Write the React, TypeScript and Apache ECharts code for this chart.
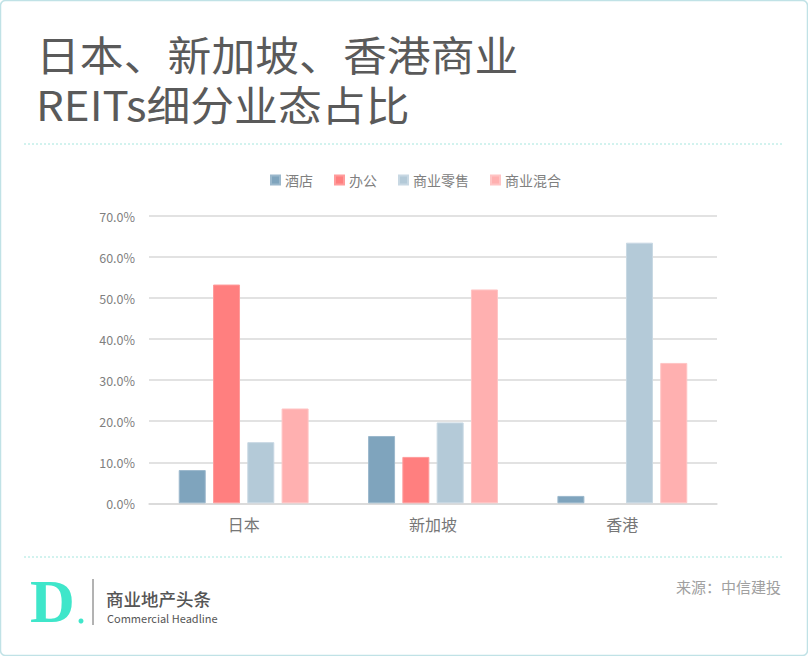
import React, { useEffect, useRef } from "react";
import * as echarts from "echarts";

const categories = ["日本", "新加坡", "香港"];
const seriesNames = ["酒店", "办公", "商业零售", "商业混合"];
const hotel = [8.1, 16.4, 1.8];
const office = [53.3, 11.3, 0];
const retail = [14.9, 19.7, 63.5];
const mixed = [23.1, 52.1, 34.2];
const colors = ["#7fa4bd", "#ff7f7f", "#b4cad8", "#ffb0b0"];
const borders = ["#9bb8cc", "#ff9c9c", "#c8d8e3", "#ffc4c4"];
const titleLines = ["日本、新加坡、香港商业", "REITs细分业态占比"];
const sourceText = "来源：中信建投";
const brandCn = "商业地产头条";
const brandEn = "Commercial Headline";

const FONT = "'Noto Sans CJK SC', 'Noto Sans', sans-serif";

export default function App() {
  const ref = useRef<HTMLDivElement>(null);
  useEffect(() => {
    if (!ref.current) return;
    const chart = echarts.init(ref.current, null, { renderer: "svg" });
    const data = [hotel, office, retail, mixed];
    chart.setOption({
      animation: false,
      backgroundColor: "#ffffff",
      textStyle: { fontFamily: FONT },
      legend: {
        left: 265,
        top: 168,
        itemWidth: 9,
        itemHeight: 9,
        itemGap: 21,
        icon: "rect",
        textStyle: { fontSize: 14, color: "#808080", fontFamily: FONT },
        data: seriesNames,
      },
      grid: { left: 149, right: 91, top: 216, bottom: 152.7 },
      xAxis: {
        type: "category",
        data: categories,
        axisLine: { lineStyle: { color: "#d9d9d9", width: 1.5 } },
        axisTick: { show: false },
        axisLabel: { fontSize: 16, color: "#777777", margin: 13, fontFamily: FONT },
      },
      yAxis: {
        type: "value",
        min: 0,
        max: 70,
        interval: 10,
        axisLine: { show: false },
        axisTick: { show: false },
        splitLine: { lineStyle: { color: "#d9d9d9", width: 1.5 } },
        axisLabel: {
          fontSize: 12.5,
          color: "#7f7f7f",
          margin: 14,
          fontFamily: FONT,
          formatter: (v: number) => v.toFixed(1) + "%",
        },
      },
      series: seriesNames.map((name, i) => ({
        name,
        type: "bar",
        data: data[i].map((v) => (v === 0 ? { value: v, itemStyle: { borderWidth: 0 } } : v)),
        barWidth: 27,
        barGap: "27%",
        itemStyle: { color: colors[i], borderColor: borders[i], borderWidth: 1 },
      })),
      graphic: [
        {
          type: "rect",
          z: -10,
          silent: true,
          shape: { x: 0.5, y: 0.5, width: 807, height: 655, r: 5 },
          style: { fill: "#ffffff", stroke: "#c0e2e6", lineWidth: 1.5 },
        },
        {
          type: "text",
          x: 36,
          y: 53,
          scaleX: 1.07,
          style: {
            text: titleLines[0],
            fontSize: 41,
            fontFamily: FONT,
            fontWeight: 400,
            fill: "#5a5a5a",
            verticalAlign: "middle",
          },
        },
        {
          type: "text",
          x: 36,
          y: 103,
          scaleX: 1.07,
          style: {
            text: titleLines[1],
            fontSize: 41,
            fontFamily: FONT,
            fontWeight: 400,
            fill: "#5a5a5a",
            verticalAlign: "middle",
          },
        },
        {
          type: "line",
          shape: { x1: 24, y1: 144, x2: 784, y2: 144 },
          style: { stroke: "#a5e6de", lineWidth: 1, lineDash: [2, 2] },
        },
        {
          type: "line",
          shape: { x1: 24, y1: 557, x2: 784, y2: 557 },
          style: { stroke: "#a5e6de", lineWidth: 1, lineDash: [2, 2] },
        },
        {
          type: "text",
          left: 30,
          top: 570,
          style: {
            text: "D",
            fontSize: 62,
            fontWeight: "bold",
            fontFamily: "'Liberation Serif', serif",
            fill: "#3fe6ca",
          },
        },
        {
          type: "circle",
          shape: { cx: 81, cy: 621, r: 2.5 },
          style: { fill: "#3fe6ca" },
        },
        {
          type: "line",
          shape: { x1: 93, y1: 579, x2: 93, y2: 625 },
          style: { stroke: "#666666", lineWidth: 1 },
        },
        {
          type: "text",
          x: 106,
          y: 598,
          style: {
            text: brandCn,
            fontSize: 17.5,
            fontFamily: FONT,
            fontWeight: 500,
            fill: "#555555",
            verticalAlign: "middle",
          },
        },
        {
          type: "text",
          x: 107,
          y: 618,
          style: {
            text: brandEn,
            fontSize: 11,
            fontFamily: FONT,
            fill: "#555555",
            verticalAlign: "middle",
          },
        },
        {
          type: "text",
          right: 27,
          top: 579,
          style: { text: sourceText, fontSize: 15, fontFamily: FONT, fill: "#a0a0a0" },
        },
      ],
    });
    return () => chart.dispose();
  }, []);
  return (
    <div
      ref={ref}
      style={{ position: "absolute", left: 0, top: 0, width: 808, height: 656 }}
    />
  );
}
